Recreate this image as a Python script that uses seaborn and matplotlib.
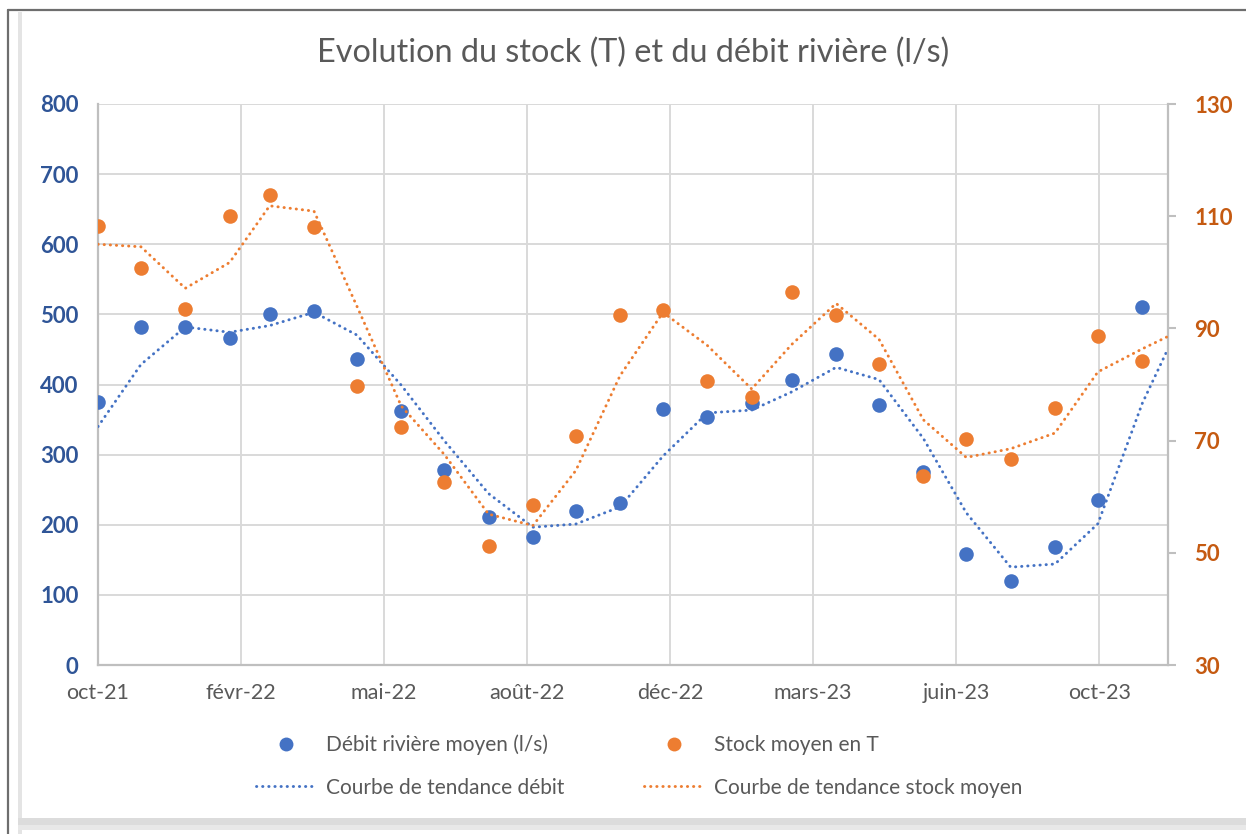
import matplotlib
matplotlib.use("Agg")
import matplotlib.pyplot as plt
from matplotlib.lines import Line2D
from matplotlib.patches import Rectangle
import seaborn as sns
import pandas as pd

# ---------------- data ----------------
months = pd.date_range("2021-10-31", periods=25, freq="ME")   # oct-21 .. oct-23, month-end
debit = [375, 482, 482, 467, 501, 505, 436, 362, 278, 211, 182, 220, 231,
         365, 354, 373, 406, 443, 371, 275, 159, 120, 168, 235, 511]
stock = [108.3, 100.8, 93.5, 110.0, 113.7, 108.1, 79.8, 72.5, 62.6, 51.2, 58.5, 70.8, 92.4,
         93.3, 80.6, 77.8, 96.5, 92.4, 83.7, 63.7, 70.3, 66.8, 75.9, 88.6, 84.1]
# values just outside the visible range (only seen through the trend curves)
debit_before, debit_after = 305, 495
stock_before, stock_after = 101.7, 96.0

x_tick_labels = ["oct-21", "févr-22", "mai-22", "août-22", "déc-22", "mars-23", "juin-23", "oct-23"]
debit_ticks = [0, 100, 200, 300, 400, 500, 600, 700, 800]
stock_ticks = [30, 50, 70, 90, 110, 130]

title = "Evolution du stock (T) et du débit rivière (l/s)"
lbl_debit = "Débit rivière moyen (l/s)"
lbl_stock = "Stock moyen en T"
lbl_tr_debit = "Courbe de tendance débit"
lbl_tr_stock = "Courbe de tendance stock moyen"

# ---------------- styling ----------------
BLUE = "#4472C4"
ORANGE = "#ED7D31"
BLUE_TXT = "#2F5597"
ORANGE_TXT = "#C55A11"
GREY_TXT = "#595959"
GRID = "#D9D9D9"
AXIS = "#BFBFBF"

sns.set_style("white")
plt.rcParams["font.family"] = ["Lato", "DejaVu Sans"]

W, H = 1246, 834
fig = plt.figure(figsize=(W / 100, H / 100), dpi=100)
fig.patch.set_facecolor("white")

# window frame / shadow decorations
fig.add_artist(Rectangle((18 / W, 0), 4 / W, 1 - 12 / H, transform=fig.transFigure,
                         color="#E4E4E4", lw=0, zorder=0))
fig.add_artist(Rectangle((18 / W, 4 / H), 1, 12 / H, transform=fig.transFigure,
                         color="#DCDCDC", lw=0, zorder=0))
fig.add_artist(Rectangle((18 / W, 4 / H), 1, 5 / H, transform=fig.transFigure,
                         color="#E8E8E8", lw=0, zorder=0))
fig.add_artist(Line2D([8 / W, 8 / W], [0, 1 - 10 / H], transform=fig.transFigure,
                      color="#6E6E6E", lw=1.6))
fig.add_artist(Line2D([8 / W, 1], [1 - 10 / H, 1 - 10 / H], transform=fig.transFigure,
                      color="#6E6E6E", lw=1.6))

ax = fig.add_axes([98 / W, 1 - 665 / H, 1070 / W, 561 / H])
ax2 = ax.twinx()

# data frames
df = pd.DataFrame({"date": months, "debit": debit, "stock": stock})
ext_dates = [months[0] - pd.offsets.MonthEnd(1)] + list(months) + [months[-1] + pd.offsets.MonthEnd(1)]
ext = pd.DataFrame({"date": ext_dates,
                    "debit": [debit_before] + debit + [debit_after],
                    "stock": [stock_before] + stock + [stock_after]})
ext["tr_debit"] = ext["debit"].rolling(2).mean()
ext["tr_stock"] = ext["stock"].rolling(2).mean()
ext = ext.dropna()

dot = (0, (0.1, 2.0))
# primary axis: débit
sns.scatterplot(data=df, x="date", y="debit", ax=ax, color=BLUE, s=110, linewidth=0, zorder=3)
sns.lineplot(data=ext, x="date", y="tr_debit", ax=ax, color=BLUE, lw=2.1,
             linestyle=dot, dash_capstyle="round", zorder=4)
# secondary axis: stock
sns.scatterplot(data=df, x="date", y="stock", ax=ax2, color=ORANGE, s=110, linewidth=0, zorder=3)
sns.lineplot(data=ext, x="date", y="tr_stock", ax=ax2, color=ORANGE, lw=2.1,
             linestyle=dot, dash_capstyle="round", zorder=4)

# axes limits
x0 = pd.Timestamp("2021-10-31")
ax.set_xlim(x0, pd.Timestamp("2023-11-18"))
ax.set_ylim(debit_ticks[0], debit_ticks[-1])
ax2.set_ylim(stock_ticks[0], stock_ticks[-1])

tick_dates = pd.date_range(x0, periods=len(x_tick_labels), freq="100D")
ax.set_xticks(tick_dates, x_tick_labels, fontsize=15.5, color=GREY_TXT)
ax.set_yticks(debit_ticks, [str(v) for v in debit_ticks], fontsize=16,
              fontweight="bold", color=BLUE_TXT)
ax2.set_yticks(stock_ticks, [str(v) for v in stock_ticks], fontsize=16,
               fontweight="bold", color=ORANGE_TXT)

ax.set_xlabel("")
ax.set_ylabel("")
ax2.set_ylabel("")

ax.grid(True, color=GRID, lw=1.4)
ax2.grid(False)
ax.set_axisbelow(True)
ax2.patch.set_visible(False)

for sp in ["top", "right"]:
    ax.spines[sp].set_visible(False)
for sp in ["left", "bottom"]:
    ax.spines[sp].set_color(AXIS)
    ax.spines[sp].set_linewidth(1.6)
for sp in ["top", "left", "bottom"]:
    ax2.spines[sp].set_visible(False)
ax2.spines["right"].set_color(AXIS)
ax2.spines["right"].set_linewidth(1.6)

ax.tick_params(axis="x", length=0, pad=13)
ax.tick_params(axis="y", length=0, pad=14)
ax2.tick_params(axis="y", length=6, width=1.5, color=AXIS, direction="out", pad=13)

fig.text(633 / W, 1 - 53 / H, title, ha="center", va="center", fontsize=23.3, color=GREY_TXT)

handles = [
    Line2D([], [], ls="none", marker="o", ms=10, color=BLUE, mew=0),
    Line2D([], [], color=BLUE, lw=2.1, ls=dot, dash_capstyle="round"),
    Line2D([], [], ls="none", marker="o", ms=10, color=ORANGE, mew=0),
    Line2D([], [], color=ORANGE, lw=2.1, ls=dot, dash_capstyle="round"),
]
labels = [lbl_debit, lbl_tr_debit, lbl_stock, lbl_tr_stock]
leg = fig.legend(handles, labels, ncol=2, loc="center", bbox_to_anchor=(639 / W, 1 - 766 / H),
                 frameon=False, fontsize=15, handlelength=2.9, handletextpad=0.45,
                 columnspacing=3.85, labelspacing=1.1)
for t in leg.get_texts():
    t.set_color(GREY_TXT)

fig.savefig("out.png", dpi=100, facecolor="white")
